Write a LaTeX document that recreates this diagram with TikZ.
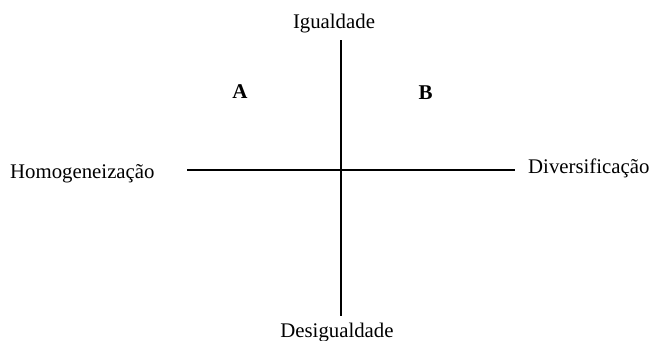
\documentclass[tikz,border=0pt]{standalone}
\usepackage{fontspec}
\setmainfont{Liberation Serif}
\usetikzlibrary{positioning}

\tikzset{
    eixo/.style={line width=1.3pt},
    rotulo/.style={inner sep=0pt, font=\fontsize{20.8}{24}\selectfont},
    quadrante/.style={inner sep=0pt, font=\fontsize{21}{24}\selectfont\bfseries}
}

\begin{document}
\begin{tikzpicture}[x=1pt, y=-1pt]

    \useasboundingbox (0,0) rectangle (652,340);

    % Axis end points
    \coordinate (topo) at (341,40);
    \coordinate (base) at (341,316);
    \coordinate (esq) at (187,170);
    \coordinate (dir) at (515,170);

    % Axes
    \draw[eixo] (topo) -- (base);
    \draw[eixo] (esq) -- (dir);

    % Axis labels
    \node[rotulo, anchor=base] (igualdade) at (334,28) {Igualdade};
    \node[rotulo, anchor=base] (desigualdade) at (337,337) {Desigualdade};
    \node[rotulo, anchor=base west] (homog) at (10,178) {Homogeneização};
    \node[rotulo, anchor=base west] (divers) at (528,173) {Diversificação};

    % Quadrants
    \node[quadrante, anchor=base] (quadA) at (240,98) {A};
    \node[quadrante, anchor=base] (quadB) at (425.5,99) {B};

\end{tikzpicture}
\end{document}
